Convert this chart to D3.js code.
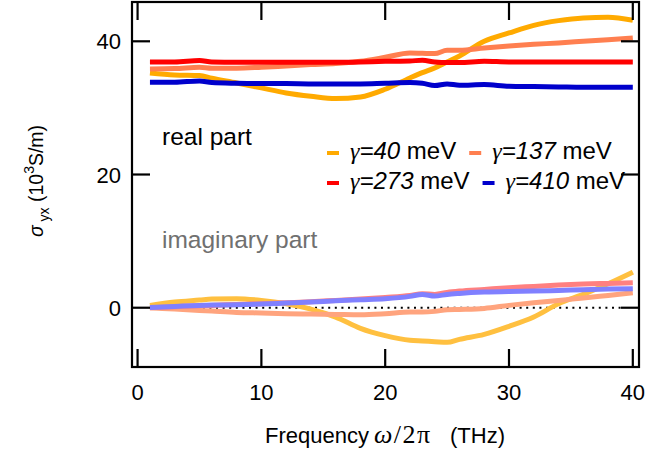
<!DOCTYPE html>
<html>
<head>
<meta charset="utf-8">
<script src="https://cdn.jsdelivr.net/npm/d3@7"></script>
<style>
  html, body { margin: 0; padding: 0; background: #fff; }
  svg { display: block; font-family: "Liberation Sans", Arial, sans-serif; }
</style>
</head>
<body>
<div id="chart"></div>
<script>
// data (THz, 10^3 S/m)
const freq = [1, 3, 5, 6, 8, 10, 12, 14, 16, 18, 20, 22, 23, 24, 25, 26, 28, 30, 32, 34, 36, 38, 40];

const realG40  = [35.25, 34.95, 34.85, 34.45, 33.75, 33.0, 32.25, 31.75, 31.4, 31.65, 32.8, 34.5, 35.3, 36.0, 36.9, 37.8, 40.0, 41.25, 42.4, 43.1, 43.5, 43.6, 43.15];
const realG137 = [35.85, 35.9, 36.1, 35.95, 35.95, 36.1, 36.3, 36.5, 36.65, 37.0, 37.6, 38.25, 38.2, 38.15, 38.65, 38.65, 39.0, 39.3, 39.55, 39.75, 40.0, 40.25, 40.5];
const realG273 = [36.9, 36.9, 37.1, 36.9, 36.85, 36.85, 36.85, 36.85, 36.85, 36.9, 37.0, 37.05, 37.15, 36.9, 36.8, 36.8, 37.0, 36.9, 36.9, 36.9, 36.9, 36.9, 36.9];
const realG410 = [33.85, 33.85, 34.05, 33.8, 33.7, 33.65, 33.65, 33.6, 33.6, 33.6, 33.7, 33.8, 33.7, 33.35, 33.6, 33.4, 33.5, 33.25, 33.2, 33.15, 33.1, 33.1, 33.1];

const imagG40  = [0.35, 0.85, 1.15, 1.3, 1.35, 1.1, 0.6, -0.2, -1.4, -3.1, -4.2, -4.9, -5.0, -5.1, -5.2, -4.75, -4.0, -2.8, -1.4, 0.6, 2.0, 3.6, 5.35];
const imagG137 = [0.0, -0.2, -0.4, -0.5, -0.7, -0.8, -0.9, -0.95, -1.0, -1.05, -0.9, -0.65, -0.65, -0.55, -0.3, -0.25, -0.1, 0.35, 0.75, 1.1, 1.45, 1.85, 2.25];
const imagG273 = [0.0, 0.15, 0.3, 0.35, 0.5, 0.6, 0.75, 0.9, 1.1, 1.3, 1.55, 1.85, 2.1, 2.0, 2.3, 2.5, 2.75, 3.0, 3.2, 3.4, 3.55, 3.65, 3.75];
const imagG410 = [0.05, 0.2, 0.35, 0.4, 0.45, 0.55, 0.7, 0.85, 1.05, 1.2, 1.35, 1.7, 2.0, 1.75, 2.0, 2.15, 2.35, 2.45, 2.5, 2.6, 2.7, 2.8, 2.85];

const gammas = ['40', '137', '273', '410'];
const realColors = ['#ffaa00', '#ff7f50', '#ff0000', '#0000cc'];
const imagColors = ['#ffc040', '#ffa47e', '#ff8080', '#8080ff'];
const xTicks = [0, 10, 20, 30, 40];
const yTicks = [0, 20, 40];

const W = 649, H = 467;
const svg = d3.select('#chart').append('svg').attr('width', W).attr('height', H);

const x = d3.scaleLinear().domain([-0.45, 40.5]).range([132, 639]);
const y = d3.scaleLinear().domain([-8.9, 45.9]).range([367, 2]);

// zero reference line (dotted)
svg.append('line')
  .attr('x1', x(-0.45) + 18).attr('x2', x(40.5) - 18)
  .attr('y1', y(0)).attr('y2', y(0))
  .attr('stroke', '#000').attr('stroke-width', 2).attr('stroke-dasharray', '2,4.6');

const line = d3.line().x(d => x(d[0])).y(d => y(d[1])).curve(d3.curveMonotoneX);
const plot = svg.append('g');
[imagG40, imagG137, imagG273, imagG410].forEach((s, i) => {
  plot.append('path').datum(freq.map((f, j) => [f, s[j]]))
    .attr('d', line).attr('fill', 'none').attr('stroke', imagColors[i])
    .attr('stroke-width', 5).attr('stroke-linejoin', 'round');
});
[realG40, realG137, realG273, realG410].forEach((s, i) => {
  plot.append('path').datum(freq.map((f, j) => [f, s[j]]))
    .attr('d', line).attr('fill', 'none').attr('stroke', realColors[i])
    .attr('stroke-width', 5).attr('stroke-linejoin', 'round');
});

// frame + inward ticks on all sides
const [x0, x1] = x.range(), [y0, y1] = y.range();
svg.append('rect').attr('x', x0).attr('y', y1).attr('width', x1 - x0).attr('height', y0 - y1)
  .attr('fill', 'none').attr('stroke', '#000').attr('stroke-width', 2.2);
const TL = 18;
const ax = svg.append('g').attr('stroke', '#000').attr('stroke-width', 2.2);
xTicks.forEach(t => {
  ax.append('line').attr('x1', x(t)).attr('x2', x(t)).attr('y1', y0).attr('y2', y0 - TL);
  ax.append('line').attr('x1', x(t)).attr('x2', x(t)).attr('y1', y1).attr('y2', y1 + TL);
});
yTicks.forEach(t => {
  ax.append('line').attr('x1', x0).attr('x2', x0 + TL).attr('y1', y(t)).attr('y2', y(t));
  ax.append('line').attr('x1', x1).attr('x2', x1 - TL).attr('y1', y(t)).attr('y2', y(t));
});

// tick labels
svg.append('g').selectAll('text').data(xTicks).join('text')
  .attr('x', d => x(d)).attr('y', 400).attr('text-anchor', 'middle')
  .style('font-size', '22px').text(d => d);
svg.append('g').selectAll('text').data(yTicks).join('text')
  .attr('x', 121).attr('y', d => y(d) + 8).attr('text-anchor', 'end')
  .style('font-size', '22px').text(d => d);

// axis titles
svg.append('text').attr('x', 265).attr('y', 443).style('font-size', '22px').text('Frequency');
const om = svg.append('text').attr('x', 374).attr('y', 443).style('font-size', '26px')
  .style('font-family', '"Liberation Serif", serif').style('letter-spacing', '1.5px');
om.append('tspan').style('font-style', 'italic').text('ω');
om.append('tspan').text('/2π');
svg.append('text').attr('x', 505).attr('y', 443).attr('text-anchor', 'end').style('font-size', '22px').text('(THz)');

const yt = svg.append('text').attr('transform', 'translate(43,181) rotate(-90)')
  .attr('text-anchor', 'middle').style('font-size', '19.5px');
yt.append('tspan').style('font-style', 'italic').text('σ');
yt.append('tspan').attr('dy', 6).style('font-size', '14px').text(' yx');
yt.append('tspan').attr('dy', -6).text(' (10');
yt.append('tspan').attr('dy', -9).style('font-size', '14px').text('3');
yt.append('tspan').attr('dy', 9).text('S/m)');

// annotations
svg.append('text').attr('x', 162).attr('y', 145).style('font-size', '24.5px').attr('fill', '#000').text('real part');
svg.append('text').attr('x', 162).attr('y', 248).style('font-size', '24.5px').attr('fill', '#707070').text('imaginary part');

// legend (flowing two rows)
const leg = svg.append('g');
const rows = [[0, 1], [2, 3]];
rows.forEach((r, ri) => {
  let cx = 327;
  const ly = 153 + ri * 30;
  r.forEach(i => {
    leg.append('line').attr('x1', cx).attr('x2', cx + 12).attr('y1', ly).attr('y2', ly)
      .attr('stroke', realColors[i]).attr('stroke-width', 4);
    const t = leg.append('text').attr('x', cx + 23).attr('y', ly + 6).style('font-size', '24px');
    t.append('tspan').style('font-family', '"Liberation Serif", serif').style('font-style', 'italic').text('γ');
    t.append('tspan').style('font-style', 'italic').text('=' + gammas[i]);
    t.append('tspan').text(' meV');
    cx += 23 + t.node().getComputedTextLength() + 13;
  });
});
</script>
</body>
</html>
